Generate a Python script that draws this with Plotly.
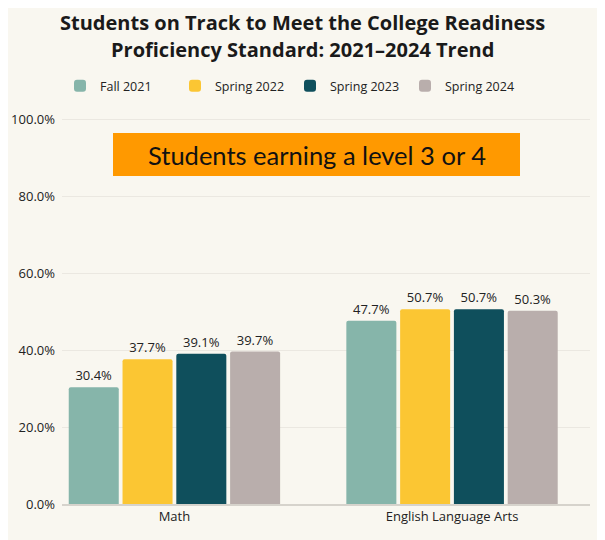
import plotly.graph_objects as go

categories = ["Math", "English Language Arts"]
series_names = ["Fall 2021", "Spring 2022", "Spring 2023", "Spring 2024"]
fall_2021 = [30.4, 47.7]
spring_2022 = [37.7, 50.7]
spring_2023 = [39.1, 50.7]
spring_2024 = [39.7, 50.3]
colors = ["#86b5aa", "#fbc633", "#0f4f5c", "#b9aeac"]
y_ticks = [0, 20, 40, 60, 80, 100]
y_tick_labels = [f"{v:.1f}%" for v in y_ticks]

BG = "#f9f7f0"
W, H = 605, 540
OFF = 8  # page body margin offset in the browser
# desired plot area in screen pixels: left 62, right 590, top 118, bottom 504
L = 62 - OFF
R = W - (590 - OFF)
T = 118 - OFF
B = H - (504 - OFF)
YMAX = 100.5
PW = W - L - R
PH = H - T - B


def px(sx):
    return (sx - OFF - L) / PW


def py(sy):
    return (H - B - (sy - OFF)) / PH


fig = go.Figure()
for name, vals, col in zip(series_names, [fall_2021, spring_2022, spring_2023, spring_2024], colors):
    fig.add_trace(go.Bar(
        x=categories, y=vals, name=name,
        marker=dict(color=col, line=dict(width=0), cornerradius=2),
        texttemplate="%{y:.1f}%", textposition="outside",
        textfont=dict(family="Open Sans", size=13, color="#222222"),
        cliponaxis=False,
    ))

fig.update_layout(
    width=W, height=H,
    margin=dict(l=L, r=R, t=T, b=B, autoexpand=False),
    paper_bgcolor=BG, plot_bgcolor=BG,
    barmode="group", bargap=0.225, bargroupgap=0.07,
    showlegend=True,
    legend=dict(
        orientation="h", xref="container", x=(80 - OFF - 20) / W, xanchor="left",
        yref="container", y=1 - (86 - OFF) / H, yanchor="middle",
        font=dict(family="Open Sans", size=12.5, color="#222222"),
        itemwidth=30, entrywidth=70, entrywidthmode="pixels",
        bgcolor="rgba(0,0,0,0)",
    ),
    xaxis=dict(
        range=[-0.405, 1.497], showgrid=False, showline=True, linecolor="#d6d3cc",
        linewidth=1.5, ticks="",
        tickfont=dict(family="Open Sans", size=13, color="#222222"),
    ),
    yaxis=dict(
        range=[0, YMAX], tickvals=y_ticks, ticktext=y_tick_labels,
        showgrid=True, gridcolor="#ebe8e1", gridwidth=1, zeroline=False,
        showline=False, ticks="", ticklabelstandoff=6,
        tickfont=dict(family="Open Sans", size=13, color="#222222"),
    ),
    font=dict(family="Open Sans"),
)

# Title (two lines)
for line, sy in [("Students on Track to Meet the College Readiness", 22),
                 ("Proficiency Standard: 2021\u20132024 Trend", 49)]:
    fig.add_annotation(
        text=f"<b>{line}</b>",
        xref="paper", yref="paper", x=px(302), y=py(sy),
        xanchor="center", yanchor="middle", showarrow=False, align="center",
        borderpad=0,
        font=dict(family="Open Sans", size=20, color="#1a1a1a"),
    )

# Orange callout box
fig.add_shape(
    type="rect", xref="paper", yref="paper",
    x0=px(113), x1=px(520), y0=py(176), y1=py(133),
    fillcolor="#ff9900", line=dict(width=0), layer="above",
)
fig.add_annotation(
    text="Students earning a level 3 or 4",
    xref="paper", yref="paper", x=px(317), y=py(155),
    xanchor="center", yanchor="middle", showarrow=False,
    font=dict(family="Lato", size=25.5, color="#111111"),
)

fig.write_html("out.html")
